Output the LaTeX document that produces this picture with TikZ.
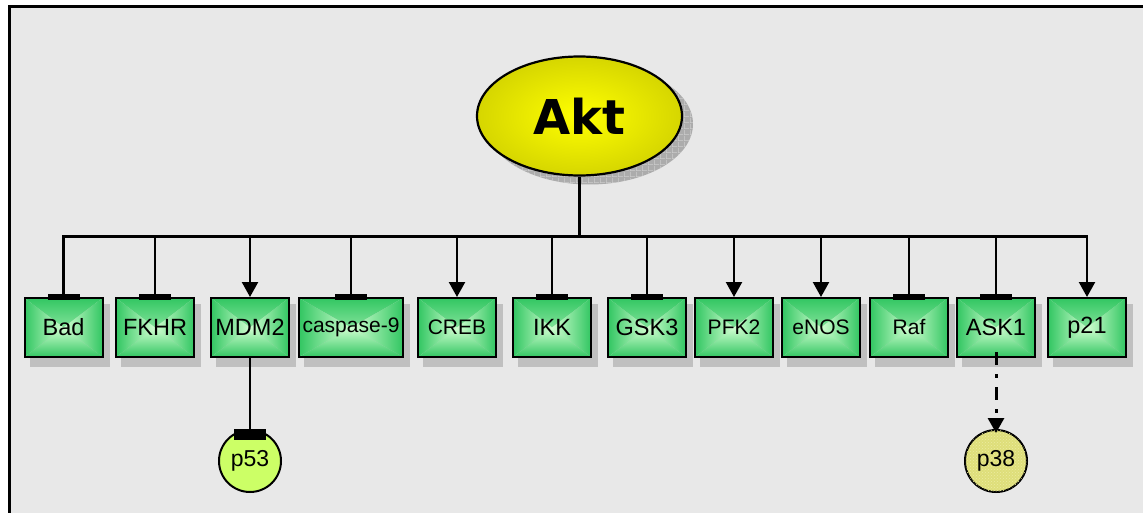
\documentclass[tikz,border=0pt]{standalone}
\usepackage{fontspec}
\setmainfont{Liberation Sans}
\newfontfamily\aktfont{DejaVu Sans}
\usetikzlibrary{arrows.meta,shapes.geometric,patterns}

\definecolor{framebg}{RGB}{232,232,232}
\definecolor{shadowgray}{RGB}{192,192,192}
\definecolor{aktshadow}{RGB}{172,172,172}
\definecolor{aktgridline}{RGB}{205,205,205}
\definecolor{aktcenter}{RGB}{255,255,0}
\definecolor{aktedge}{RGB}{214,214,0}
\definecolor{gedge}{RGB}{50,198,98}
\definecolor{gcenter}{RGB}{208,255,208}
\definecolor{ptfiftythree}{RGB}{204,255,102}
\definecolor{ptthirtyeight}{RGB}{222,222,122}
\definecolor{ptthirtyeightdots}{RGB}{236,236,160}

% grid texture for the shadow under the Akt ellipse
\pgfdeclarepatternformonly{aktgrid}{\pgfpointorigin}{\pgfqpoint{6pt}{6pt}}{\pgfqpoint{6pt}{6pt}}{%
  \pgfsetlinewidth{1.2pt}%
  \pgfpathmoveto{\pgfqpoint{0pt}{0pt}}\pgfpathlineto{\pgfqpoint{6pt}{0pt}}%
  \pgfpathmoveto{\pgfqpoint{0pt}{0pt}}\pgfpathlineto{\pgfqpoint{0pt}{6pt}}%
  \pgfusepath{stroke}}

% rectangular "from the centre" gradient made of four shaded triangles
\newcommand\pyramidfill{%
  \shade[top color=gedge,bottom color=gcenter]
    (path picture bounding box.north west) -- (path picture bounding box.north east)
    -- (path picture bounding box.center) -- cycle;
  \shade[top color=gcenter,bottom color=gedge]
    (path picture bounding box.south west) -- (path picture bounding box.south east)
    -- (path picture bounding box.center) -- cycle;
  \shade[left color=gedge,right color=gcenter]
    (path picture bounding box.north west) -- (path picture bounding box.south west)
    -- (path picture bounding box.center) -- cycle;
  \shade[left color=gcenter,right color=gedge]
    (path picture bounding box.north east) -- (path picture bounding box.south east)
    -- (path picture bounding box.center) -- cycle;
}

\tikzset{
  gene/.style={draw, line width=2pt, minimum height=59pt, inner sep=0pt,
    path picture={\pyramidfill}},
  genebig/.style={font=\fontsize{23.5}{23.5}\selectfont},
  genesmall/.style={font=\fontsize{21}{21}\selectfont},
  link/.style={line width=2.3pt},
  act/.style={link, -{Triangle[width=16pt,length=15pt]}},
  inh/.style={link},
  target/.style={circle, draw, line width=2pt, minimum size=62pt, inner sep=0pt,
    font=\fontsize{23}{23}\selectfont},
}

\begin{document}
\begin{tikzpicture}[x=1pt,y=-1pt]
\useasboundingbox (0,0) rectangle (1143,513);

% panel
\draw[line width=2.5pt, fill=framebg] (9.5,6.5) rectangle (1170,540);

% Akt with its textured shadow
\fill[aktshadow] (589.5,124) ellipse [x radius=103.5, y radius=60.5];
\fill[pattern=aktgrid, pattern color=aktgridline] (589.5,124) ellipse [x radius=103.5, y radius=60.5];
\node[ellipse, draw, line width=2.2pt, minimum width=205pt, minimum height=119pt,
      inner color=aktcenter, outer color=aktedge,
      font=\aktfont\bfseries\fontsize{48}{48}\selectfont] (akt) at (579.5,116) {Akt};

% bus
\coordinate (busL) at (63.5,236.5);
\coordinate (busR) at (1087,236.5);
\draw[link, line cap=rect] (busL) -- (busR);
\draw[link] (akt.south) -- (akt.south |- busL);

% downstream targets
\def\inhkind{inh}
\foreach \x/\w/\id/\lab/\sz/\kind in {
   63.5/78/bad/Bad/big/inh,
  155/78/fkhr/FKHR/big/inh,
  250/78/mdm/MDM2/big/act,
  351/104/casp/caspase-9/small/inh,
  457/78/creb/CREB/small/act,
  552/78/ikk/IKK/big/inh,
  647/78/gsk/GSK3/big/inh,
  734/78/pfk/PFK2/small/act,
  821/78/enos/eNOS/small/act,
  909/78/raf/Raf/small/inh,
  996/78/ask/ASK1/big/inh,
  1087/78/pcdk/p21/big/act}{
  \fill[shadowgray] (\x-\w/2-1+6,296+8) rectangle (\x+\w/2+1+6,359+8);
  \node[gene, gene\sz, minimum width=\w pt] (\id) at (\x,327.5) {\lab};
  \draw[\kind] (\id.north |- busL) -- (\id.north);
  \ifx\kind\inhkind
    \fill ([xshift=-16pt,yshift=-3pt]\id.north) rectangle ([xshift=16pt,yshift=3pt]\id.north);
  \fi
}

% p53, inhibited by MDM2
\node[target, fill=ptfiftythree] (p53) at (250,461) {p53};
\draw[inh] (mdm.south) -- (p53.north);
\fill ([xshift=-16pt]p53.north) rectangle ([xshift=16pt,yshift=-11pt]p53.north);

% p38, reached from ASK1
\node[target, fill=ptthirtyeight, postaction={pattern=crosshatch dots, pattern color=ptthirtyeightdots}] (p38) at (996,461) {p38};
\draw[act, line width=3pt, dash pattern=on 13pt off 9pt on 4pt off 9pt, shorten >=-4pt]
  ([yshift=6pt]ask.south) -- (p38.north);
\end{tikzpicture}
\end{document}
